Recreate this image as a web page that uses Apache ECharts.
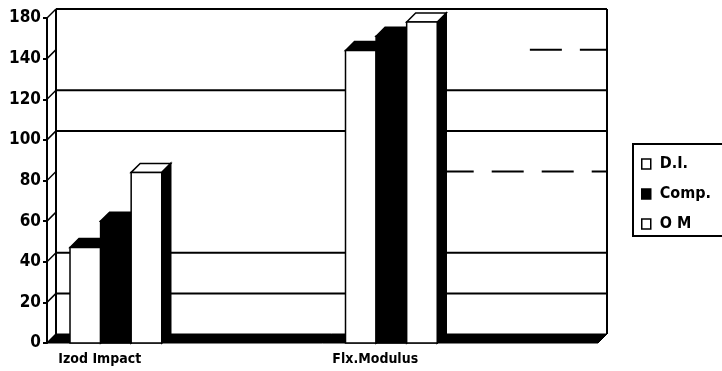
<!DOCTYPE html>
<html>
<head>
<meta charset="utf-8">
<script src="https://cdn.jsdelivr.net/npm/echarts@6/dist/echarts.min.js"></script>
<style>
  html, body { margin: 0; padding: 0; background: #fff; }
  #chart { width: 722px; height: 371px; }
</style>
</head>
<body>
<div id="chart"></div>
<script>
// data
const categories = ['Izod Impact', 'Flx.Modulus'];
const seriesNames = ['D.I.', 'Comp.', 'O M'];
const diValues = [47, 144];
const compValues = [60, 151];
const omValues = [84, 158];
const tickLabels = ['0', '20', '40', '60', '80', '100', '120', '140', '180'];
const solidGrid = [20, 40, 100, 120, 160];
const dashedGrid = [80, 140];

const DEPTH = 9;
const BAR_FRAC = 0.111;
const GROUP_START = 0.0835;
const FONT = 'DejaVu Sans Condensed';
// dashed wall lines only show on the right part of the wall
const dashStart = { 80: 0.7, 140: 0.86 };

// front face, top and side colours for each series
const barStyles = [
  { front: '#fff', top: '#000', side: '#000' },
  { front: '#000', top: '#000', side: '#000' },
  { front: '#fff', top: '#fff', side: '#000' }
];

function barRender(sIdx) {
  const st = barStyles[sIdx];
  return function (params, api) {
    const cat = api.value(0);
    const band = api.size([1, 0])[0];
    const base = api.coord([cat, 0]);
    const w = band * BAR_FRAC;
    const x = base[0] - band / 2 + band * GROUP_START + sIdx * w;
    const y0 = base[1];
    const y1 = api.coord([cat, api.value(1)])[1];
    const line = { stroke: '#000', lineWidth: 1.5 };
    return {
      type: 'group',
      children: [
        {
          type: 'polygon',
          shape: { points: [[x + w, y1], [x + w + DEPTH, y1 - DEPTH], [x + w + DEPTH, y0 - DEPTH], [x + w, y0]] },
          style: Object.assign({ fill: st.side }, line)
        },
        {
          type: 'polygon',
          shape: { points: [[x, y1], [x + DEPTH, y1 - DEPTH], [x + w + DEPTH, y1 - DEPTH], [x + w, y1]] },
          style: Object.assign({ fill: st.top }, line)
        },
        {
          type: 'rect',
          shape: { x: x, y: y1, width: w, height: y0 - y1 },
          style: Object.assign({ fill: st.front }, line)
        }
      ]
    };
  };
}

// back wall, floor and side-wall ticks
function frameRender(params, api) {
  const children = [];
  const bl = api.coord([0, 0]);
  const br = api.coord([1, 0]);
  const tl = api.coord([0, 160]);
  const tr = api.coord([1, 160]);
  children.push({
    type: 'polygon',
    shape: { points: [bl, br, [br[0] - DEPTH, br[1] + DEPTH], [bl[0] - DEPTH, bl[1] + DEPTH]] },
    style: { fill: '#000', stroke: '#000', lineWidth: 1 }
  });
  children.push({ type: 'line', shape: { x1: tl[0], y1: tl[1], x2: bl[0], y2: bl[1] }, style: { stroke: '#000', lineWidth: 2 } });
  children.push({ type: 'line', shape: { x1: tr[0], y1: tr[1], x2: br[0], y2: br[1] }, style: { stroke: '#000', lineWidth: 2 } });
  solidGrid.forEach(function (v) {
    const a = api.coord([0, v]);
    const b = api.coord([1, v]);
    children.push({ type: 'line', shape: { x1: a[0], y1: a[1], x2: b[0], y2: b[1] }, style: { stroke: '#000', lineWidth: 2 } });
  });
  dashedGrid.forEach(function (v) {
    const a = api.coord([dashStart[v], v]);
    const b = api.coord([1, v]);
    children.push({ type: 'line', shape: { x1: a[0], y1: a[1], x2: b[0], y2: b[1] }, style: { stroke: '#000', lineWidth: 2, lineDash: [32, 18] } });
  });
  for (let i = 0; i < tickLabels.length; i++) {
    const p = api.coord([0, i * 20]);
    children.push({ type: 'line', shape: { x1: p[0] - DEPTH, y1: p[1] + DEPTH, x2: p[0], y2: p[1] }, style: { stroke: '#000', lineWidth: 1.5 } });
  }
  return { type: 'group', children: children };
}

const valueSets = [diValues, compValues, omValues];

const chart = echarts.init(document.getElementById('chart'));
chart.setOption({
  animation: false,
  backgroundColor: '#fff',
  grid: [
    { left: 47, top: 18, width: 551, height: 325 },
    { left: 56, top: 9, width: 551, height: 325 }
  ],
  legend: {
    orient: 'vertical',
    left: 633,
    top: 144,
    borderColor: '#000',
    borderWidth: 2,
    padding: [11, 40, 3, 8],
    itemWidth: 9,
    itemHeight: 10,
    itemGap: 12,
    textStyle: { color: '#000', fontFamily: FONT, fontSize: 16, fontWeight: 'bold', lineHeight: 18, padding: [0, 0, 0, 4] },
    data: [
      { name: seriesNames[0], icon: 'rect', itemStyle: { color: '#fff', borderColor: '#000', borderWidth: 1.5 } },
      { name: seriesNames[1], icon: 'rect', itemStyle: { color: '#000', borderColor: '#000', borderWidth: 1.5 } },
      { name: seriesNames[2], icon: 'rect', itemStyle: { color: '#fff', borderColor: '#000', borderWidth: 1.5 } }
    ]
  },
  xAxis: [
    {
      type: 'category',
      gridIndex: 0,
      data: categories,
      axisLine: { show: false },
      axisTick: { show: false },
      axisLabel: {
        color: '#000', fontFamily: FONT, fontSize: 14, fontWeight: 'bold',
        margin: 9, padding: [0, 170, 0, 0]
      }
    },
    { type: 'value', gridIndex: 1, min: 0, max: 1, show: false }
  ],
  yAxis: [
    {
      type: 'value',
      gridIndex: 0,
      min: 0,
      max: 160,
      interval: 20,
      axisLine: { show: true, lineStyle: { color: '#000', width: 2 } },
      axisTick: { show: true, length: 4, lineStyle: { color: '#000', width: 2 } },
      splitLine: { show: false },
      axisLabel: {
        color: '#000', fontFamily: FONT, fontSize: 17, fontWeight: 'bold', margin: 6,
        formatter: function (v) { return tickLabels[Math.round(v / 20)]; }
      }
    },
    { type: 'value', gridIndex: 1, min: 0, max: 160, show: false }
  ],
  series: [
    {
      type: 'custom',
      name: 'frame',
      xAxisIndex: 1,
      yAxisIndex: 1,
      renderItem: frameRender,
      data: [[0, 0]],
      silent: true,
      z: 1
    }
  ].concat(seriesNames.map(function (name, i) {
    return {
      type: 'custom',
      name: name,
      xAxisIndex: 0,
      yAxisIndex: 0,
      renderItem: barRender(i),
      data: valueSets[i].map(function (v, c) { return [c, v]; }),
      z: 2
    };
  }))
});
</script>
</body>
</html>
